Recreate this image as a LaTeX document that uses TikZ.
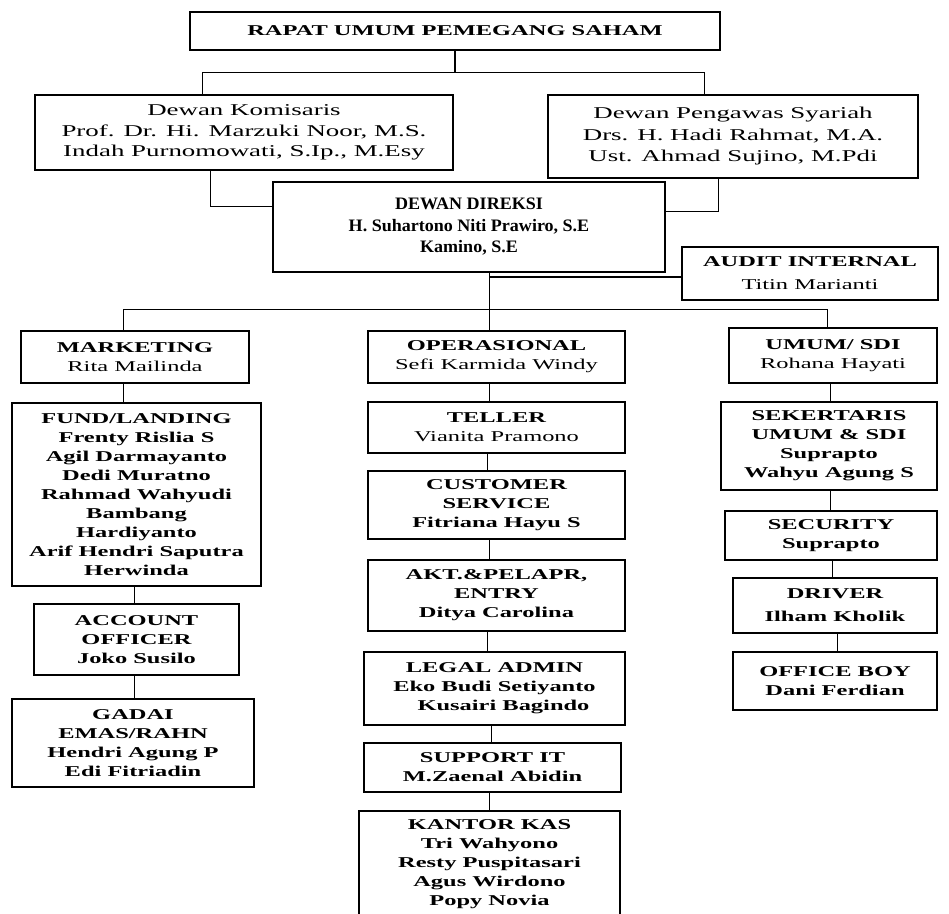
\documentclass[tikz,border=0pt]{standalone}
\usepackage{fontspec}
\setmainfont{Liberation Serif}
\newfontfamily\wideserif[FakeStretch=1.63]{Liberation Serif}
\newfontfamily\midserif[FakeStretch=1.03]{Liberation Serif}
\newcommand\vlink[3]{\path ([xshift=#3bp]#1.south west) coordinate (tmpv); \draw[link] (tmpv) -- (tmpv |- #2.north);}
\tikzset{
  box/.style={draw, line width=1.2bp, inner sep=0pt, align=center},
  link/.style={line width=1.2bp},
  lower/.style={box, font=\wideserif\fontsize{15bp}{19bp}\selectfont},
  lowerb/.style={box, font=\wideserif\fontsize{15bp}{19bp}\selectfont\bfseries},
}
\begin{document}
\begin{tikzpicture}[x=1bp, y=-1bp]
\useasboundingbox[fill=white] (0,0) rectangle (949,914);
% top
\node[box, font=\wideserif\fontsize{15bp}{19bp}\selectfont\bfseries, minimum width=530bp, minimum height=38bp] (rups) at (455,31) {RAPAT UMUM PEMEGANG SAHAM};
\node[box, font=\wideserif\fontsize{16.5bp}{20.5bp}\selectfont, minimum width=418bp, minimum height=75bp] (kom) at (244,132.5) {Dewan Komisaris\\Prof. Dr. Hi. Marzuki Noor, M.S.\\Indah Purnomowati, S.Ip., M.Esy};
\node[box, font=\wideserif\fontsize{16.5bp}{21.5bp}\selectfont, minimum width=370bp, minimum height=83bp] (dps) at (733,136.5) {Dewan Pengawas Syariah\\Drs. H. Hadi Rahmat, M.A.\\Ust. Ahmad Sujino, M.Pdi};
\node[box, font=\midserif\fontsize{17.5bp}{21.5bp}\selectfont\bfseries, minimum width=392bp, minimum height=90bp] (dir) at (469,227) {DEWAN DIREKSI\\H. Suhartono Niti Prawiro, S.E\\Kamino, S.E};
\node[box, font=\wideserif\fontsize{15bp}{23bp}\selectfont, minimum width=256bp, minimum height=53bp] (audit) at (810,273.5) {\textbf{AUDIT INTERNAL}\\Titin Marianti};
% marketing column
\node[lower, minimum width=228bp, minimum height=52bp] (mkt) at (135,357) {\textbf{MARKETING}\\Rita Mailinda};
\node[lowerb, minimum width=249bp, minimum height=183bp] (fund) at (136.5,494.5) {FUND/LANDING\\Frenty Rislia S\\Agil Darmayanto\\Dedi Muratno\\Rahmad Wahyudi\\Bambang\\Hardiyanto\\Arif Hendri Saputra\\Herwinda};
\node[lowerb, minimum width=205bp, minimum height=71bp] (ao) at (136.5,639.5) {ACCOUNT\\OFFICER\\Joko Susilo};
\node[lowerb, minimum width=242bp, minimum height=88bp] (gadai) at (133,743) {GADAI\\EMAS/RAHN\\Hendri Agung P\\Edi Fitriadin};
% operasional column
\node[lower, minimum width=257bp, minimum height=52bp] (ops) at (496.5,357) {\textbf{OPERASIONAL}\\Sefi Karmida Windy};
\node[lower, minimum width=257bp, minimum height=51bp] (teller) at (496.5,427.5) {\textbf{TELLER}\\Vianita Pramono};
\node[lowerb, minimum width=257bp, minimum height=68bp] (cs) at (496.5,505) {CUSTOMER\\SERVICE\\Fitriana Hayu S};
\node[lowerb, minimum width=257bp, minimum height=71bp] (akt) at (496.5,595.5) {AKT.\&PELAPR,\\ENTRY\\Ditya Carolina};
\node[lowerb, minimum width=261bp, minimum height=73bp] (legal) at (494.5,688.5) {LEGAL ADMIN\\Eko Budi Setiyanto\\\hspace*{1.2em}Kusairi Bagindo};
\node[lowerb, minimum width=257bp, minimum height=49bp] (sup) at (492.5,767.5) {SUPPORT IT\\M.Zaenal Abidin};
\node[lowerb, minimum width=261bp, minimum height=107bp] (kas) at (489.5,864.5) {KANTOR KAS\\Tri Wahyono\\Resty Puspitasari\\Agus Wirdono\\Popy Novia};
% umum column
\node[lower, minimum width=208bp, minimum height=55bp] (umum) at (833,355.5) {\textbf{UMUM/ SDI}\\Rohana Hayati};
\node[lowerb, minimum width=216bp, minimum height=88bp] (sek) at (829,446) {SEKERTARIS\\UMUM \& SDI\\Suprapto\\Wahyu Agung S};
\node[lowerb, minimum width=212bp, minimum height=49bp] (sec) at (831,535.5) {SECURITY\\Suprapto};
\node[lowerb, minimum width=204bp, minimum height=55bp, font=\wideserif\fontsize{15bp}{23bp}\selectfont\bfseries] (drv) at (835,605.5) {DRIVER\\Ilham Kholik};
\node[lowerb, minimum width=204bp, minimum height=58bp] (ob) at (835,681) {OFFICE BOY\\Dani Ferdian};
% connectors top
\draw[link] (rups.south) -- ++(0,22) coordinate (j1);
\draw[link] ([xshift=168bp]kom.north west) |- (j1) -| ([xshift=157bp]dps.north west);
\draw[link] ([xshift=176bp]kom.south west) |- ([yshift=-25bp]dir.north west);
\draw[link] ([xshift=171bp]dps.south west) |- ([yshift=-30bp]dir.north east);
\draw[link] ([xshift=217bp]dir.south west) -- ++(0,37) coordinate (j2);
\path ([yshift=-3.5bp]audit.west) coordinate (a1);
\draw[link] (a1) -- (a1 -| j2);
\draw[link] ([xshift=103bp]mkt.north west) |- (j2) -| ([xshift=99bp]umum.north west);
\draw[link] (j2) -- (j2 |- ops.north);
% column connectors
\vlink{mkt}{fund}{103}
\vlink{fund}{ao}{123}
\vlink{ao}{gadai}{101}
\vlink{ops}{teller}{122}
\vlink{teller}{cs}{120}
\vlink{cs}{akt}{122}
\vlink{akt}{legal}{120}
\vlink{legal}{sup}{128}
\vlink{sup}{kas}{126}
\vlink{umum}{sek}{102}
\vlink{sek}{sec}{110}
\vlink{sec}{drv}{108}
\vlink{drv}{ob}{105}
\end{tikzpicture}
\end{document}
